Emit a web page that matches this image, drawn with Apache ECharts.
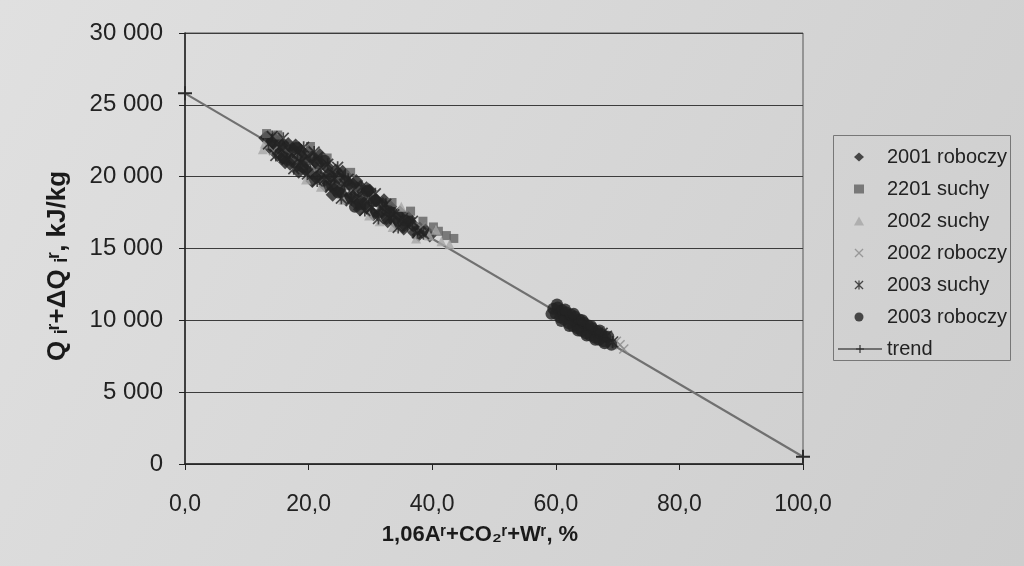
<!DOCTYPE html>
<html><head><meta charset="utf-8">
<script src="https://cdn.jsdelivr.net/npm/echarts@6/dist/echarts.min.js"></script>
<style>html,body{margin:0;padding:0;background:#d8d8d8;} #c{width:1024px;height:566px;}</style>
</head><body><div id="c"></div>
<script>
// ---- data ----
const xTickLabels = ['0,0','20,0','40,0','60,0','80,0','100,0'];
const yTickLabels = ['0','5 000','10 000','15 000','20 000','25 000','30 000'];
const seriesNames = ['2001 roboczy','2201 suchy','2002 suchy','2002 roboczy','2003 suchy','2003 roboczy','trend'];

const r2001 = [[13.0,22700],[13.8,22000],[14.4,22650],[15.0,21500],[15.6,22150],[16.2,21000],[16.7,22280],[17.3,21220],[17.9,22170],[18.4,20350],[18.9,21420],[19.5,20470],[20.0,21740],[20.6,19690],[21.1,21060],[21.7,20110],[22.2,21280],[22.8,19330],[23.3,20200],[23.9,18750],[24.4,20430],[25.0,19080],[25.5,20350],[26.1,18400],[26.6,19470],[27.2,18620],[27.7,19690],[28.3,17740],[28.8,18710],[29.4,17860],[29.9,19030],[30.5,17380],[31.0,18360],[31.6,17500],[32.2,18350],[32.8,16900],[33.4,17650],[34.1,16770],[34.8,17500],[35.5,16620],[36.3,16920],[37.1,16110],[38.0,16390],
  [13.4,22750],[14.0,22400],[14.6,21850],[15.2,22450],[15.8,21350],[16.4,22000],[17.0,20900],[17.6,21850],[18.2,20800],[18.8,21800],[19.4,21150],[20.0,20300],[20.6,21350],[21.2,19950],[21.8,21500],[22.4,19700],[23.0,20700],[23.6,20000],[24.2,19100],[24.8,19950],[25.4,18800],[26.0,20100],[26.6,18550],[27.2,19450],[27.8,18100],[28.4,19300],[29.0,18150],[29.6,19100],[30.2,17500],[30.8,18400],[31.4,17300],[32.0,18100],[32.6,17100],[33.2,17900],[33.9,16950],[34.6,17300],[35.4,16400],[36.2,17100],[37.0,16600],[37.8,15950],[38.8,16300],[39.6,15900],
  [60.5,10600],[62.6,10100],[64.6,9600],[66.4,9100],[63.3,9700]];
const s2201 = [[13.2,23000],[15.0,22900],[20.3,22100],[23.0,21300],[26.8,20300],[33.5,18200],[36.5,17600],[38.5,16900],[40.2,16500],[41.0,16200],[42.3,15900],[43.5,15700]];
const s2002 = [[12.6,21900],[12.9,22300],[19.6,19800],[22.0,19300],[25.6,18400],[29.8,17300],[31.5,16900],[33.6,16500],[35.0,17900],[37.4,15700],[39.5,15900],[40.6,16300],[41.5,15500],[42.8,15300]];
const r2002 = [[14.3,21800],[38.2,16500],[68.6,8350],[69.8,8550],[70.4,8300],[71.0,8000]];
const s2003 = [[13.5,22280],[14.1,22800],[14.7,21480],[15.3,22030],[15.9,22680],[16.5,21220],[17.0,21700],[17.6,20550],[18.2,21700],[18.7,20970],[19.2,22040],[19.8,20190],[20.3,20960],[20.9,21710],[21.4,19690],[22.0,20630],[22.5,19810],[23.1,20860],[23.6,19330],[24.2,19880],[24.7,20650],[25.3,18500],[25.8,19470],[26.4,19820],[26.9,18390],[27.5,19140],[28.0,18520],[28.6,19260],[29.1,17640],[29.7,18590],[30.2,17860],[30.8,18810],[31.3,17080],[31.9,17830],[32.5,18080],[33.1,17130],[33.8,17350],[34.5,16470],[35.2,17090],[36.0,16590],[36.8,16890],[37.6,16090],[38.6,16030],
  [67.5,9100],[68.2,8900],[69.2,8500]];
const r2003 = [[16.0,21300],[18.0,22000],[19.0,20700],[21.5,20900],[22.6,21100],[23.8,19400],[24.8,18900],[26.0,19700],[27.5,17900],[28.4,18100],[29.5,19000],[30.6,18300],[33.0,17600],[35.6,16950],
  [59.6,10800],[60.0,10450],[60.3,10900],[60.7,10200],[61.0,10700],[61.4,10050],[61.7,10550],[62.1,9800],[62.4,10400],[62.8,9600],[63.1,10250],[63.5,9450],[63.8,10050],[64.2,9250],[64.5,9850],[64.9,9100],[65.2,9650],[65.6,8950],[65.9,9450],[66.3,8800],[66.6,9250],[67.0,8650],[67.3,9050],[67.7,8550],[68.0,8850],
  [59.3,10450],[60.2,11100],[60.9,9950],[61.5,10750],[62.2,9600],[62.9,10450],[63.6,9300],[64.3,10000],[65.0,8950],[65.7,9600],[66.4,8650],[67.1,9300],[67.9,8400],[68.5,8850],[69.0,8300]];
const trend = [[0,25800],[100,500]];

// ---- chart ----
const xPath = 'path://M1,0 L5,4 L9,0 L10,1 L6,5 L10,9 L9,10 L5,6 L1,10 L0,9 L4,5 L0,1 Z';
const starPath = 'path://M1,0 L5,4 L9,0 L10,1 L6,5 L10,9 L9,10 L5,6 L1,10 L0,9 L4,5 L0,1 Z M4.3,0 L5.7,0 L5.7,10 L4.3,10 Z';
const plusPath = 'path://M4.3,0 L5.7,0 L5.7,4.3 L10,4.3 L10,5.7 L5.7,5.7 L5.7,10 L4.3,10 L4.3,5.7 L0,5.7 L0,4.3 L4.3,4.3 Z';
const font = 'Liberation Sans, Arial, sans-serif';
const legendText = {fontSize:20, color:'#222', fontFamily:font, lineHeight:20};

const chart = echarts.init(document.getElementById('c'));
chart.setOption({
  animation: false,
  backgroundColor: {type:'linear', x:0, y:0, x2:1, y2:1, colorStops:[{offset:0,color:'#e0e0e0'},{offset:1,color:'#cdcdcd'}]},
  grid: {left:185, top:33, right:221, bottom:102, show:true, borderColor:'#555', borderWidth:1, backgroundColor:'transparent'},
  xAxis: {
    type:'value', min:0, max:100, interval:20,
    axisLine:{show:true, onZero:false, lineStyle:{color:'#222', width:1.5}},
    axisTick:{show:true, length:6, lineStyle:{color:'#222'}},
    splitLine:{show:false},
    axisLabel:{margin:29, fontSize:23, color:'#222', fontFamily:font,
      formatter:(v)=>xTickLabels[Math.round(v/20)]}
  },
  yAxis: {
    type:'value', min:0, max:30000, interval:5000,
    axisLine:{show:true, lineStyle:{color:'#222', width:1.5}},
    axisTick:{show:true, length:6, lineStyle:{color:'#222'}},
    splitLine:{show:true, lineStyle:{color:'#3c3c3c', width:1.2}},
    axisLabel:{margin:22, fontSize:24, color:'#222', fontFamily:font,
      formatter:(v)=>yTickLabels[Math.round(v/5000)]}
  },
  legend: [
    {orient:'vertical', left:854, top:147, itemWidth:10, itemHeight:9, itemGap:12, padding:0,
      textStyle:Object.assign({padding:[0,0,0,18]}, legendText), data: seriesNames.slice(0,6)},
    {orient:'vertical', left:837, top:339, itemWidth:44, itemHeight:10, padding:0,
      textStyle:legendText, data: seriesNames.slice(6)}
  ],
  graphic: [
    {type:'rect', shape:{x:833.5, y:135.5, width:177, height:225}, style:{fill:'none', stroke:'#777', lineWidth:1}},
    {type:'text', x:480, y:535, style:{text:'1,06Aʳ+CO₂ʳ+Wʳ, %', font:'bold 22px '+font, fill:'#1a1a1a', align:'center', verticalAlign:'middle'}},
    {type:'text', x:58, y:266, rotation:Math.PI/2, style:{text:'Q ᵢʳ+ΔQ ᵢʳ, kJ/kg', font:'bold 26px '+font, fill:'#1a1a1a', align:'center', verticalAlign:'middle'}}
  ],
  series: [
    {name:seriesNames[6], type:'line', data:trend, z:1, symbol:plusPath, symbolSize:14, showSymbol:true,
      lineStyle:{color:'#707070', width:2.2}, itemStyle:{color:'#2a2a2a'}},
    {name:seriesNames[0], type:'scatter', data:r2001, z:2, symbol:'diamond', symbolSize:14, itemStyle:{color:'#232323'}},
    {name:seriesNames[1], type:'scatter', data:s2201, z:2, symbol:'rect', symbolSize:9, itemStyle:{color:'#626262'}},
    {name:seriesNames[2], type:'scatter', data:s2002, z:2, symbol:'triangle', symbolSize:10, itemStyle:{color:'#a6a6a6'}},
    {name:seriesNames[3], type:'scatter', data:r2002, z:2, symbol:xPath, symbolSize:10, itemStyle:{color:'#8a8a8a'}},
    {name:seriesNames[4], type:'scatter', data:s2003, z:3, symbol:starPath, symbolSize:12, itemStyle:{color:'#232323'}},
    {name:seriesNames[5], type:'scatter', data:r2003, z:3, symbol:'circle', symbolSize:12, itemStyle:{color:'#232323'}}
  ]
});
</script>
</body></html>
